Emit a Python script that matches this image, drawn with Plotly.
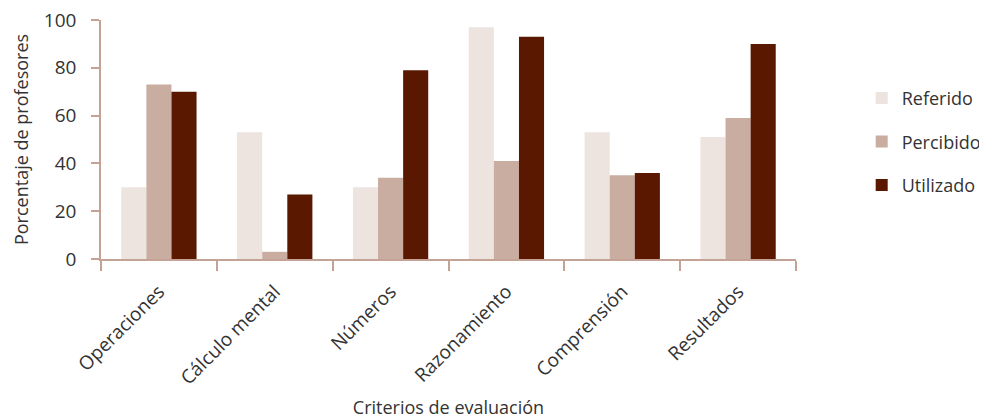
import plotly.graph_objects as go

categorias = ["Operaciones", "Cálculo mental", "Números", "Razonamiento", "Comprensión", "Resultados"]
referido = [30, 53, 30, 97, 53, 51]
percibido = [73, 3, 34, 41, 35, 59]
utilizado = [70, 27, 79, 93, 36, 90]
series = [("Referido", referido, "#EDE3DF"), ("Percibido", percibido, "#C9ADA0"), ("Utilizado", utilizado, "#5A1800")]

axis_color = "#C4A396"
font_family = "Open Sans, Noto Sans, sans-serif"

fig = go.Figure()
for i, (name, vals, col) in enumerate(series):
    fig.add_trace(go.Bar(x=categorias, y=vals, name=name, marker=dict(color=col, line=dict(width=0)),
                         legendgroup=name))

# page body has an 8px margin, so the figure is 979x411 and margins compensate
fig.update_layout(
    width=979, height=411,
    margin=dict(l=93, r=191, t=12, b=160),
    paper_bgcolor="white", plot_bgcolor="white",
    barmode="group", bargap=0.35, bargroupgap=0,
    font=dict(family=font_family, size=18, color="#333333"),
    legend=dict(xref="container", x=0.872, y=0.49, xanchor="left", yanchor="middle", tracegroupgap=17,
                font=dict(size=18, color="#333333"), bgcolor="rgba(0,0,0,0)"),
    showlegend=True,
)
fig.update_xaxes(showline=True, linecolor=axis_color, linewidth=2, ticks="outside", tickson="boundaries",
                 ticklen=10, tickcolor=axis_color, tickwidth=1.5, tickangle=-45, showgrid=False,
                 automargin=False, ticklabelstandoff=12, ticklabeloverflow="allow",
                 title=dict(text="Criterios de evaluación", font=dict(size=18), standoff=20),
                 tickfont=dict(size=19))
fig.update_yaxes(range=[0, 100], tickvals=[0, 20, 40, 60, 80, 100], showline=True, linecolor=axis_color,
                 linewidth=1.5, ticks="outside", ticklen=8, tickcolor=axis_color, tickwidth=1.5,
                 showgrid=False, zeroline=False, automargin=False, ticklabelstandoff=11,
                 ticklabeloverflow="allow",
                 title=dict(text="Porcentaje de profesores", font=dict(size=18), standoff=11),
                 tickfont=dict(size=19))

fig.write_html("out.html")
